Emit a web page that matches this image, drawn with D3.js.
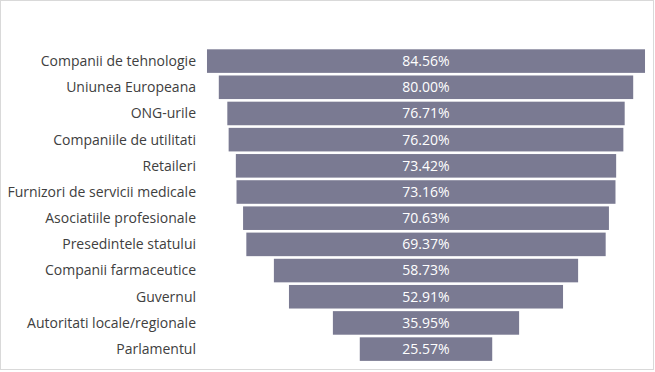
<!DOCTYPE html>
<html>
<head>
<meta charset="utf-8">
<script src="https://cdn.jsdelivr.net/npm/d3@7"></script>
<style>
  body { margin: 0; background: #fff; }
</style>
</head>
<body>
<script>
const categories = [
  'Companii de tehnologie',
  'Uniunea Europeana',
  'ONG-urile',
  'Companiile de utilitati',
  'Retaileri',
  'Furnizori de servicii medicale',
  'Asociatiile profesionale',
  'Presedintele statului',
  'Companii farmaceutice',
  'Guvernul',
  'Autoritati locale/regionale',
  'Parlamentul'
]
const values = [84.56, 80.0, 76.71, 76.2, 73.42, 73.16, 70.63, 69.37, 58.73, 52.91, 35.95, 25.57]

const data = categories.map((c, i) => ({ name: c, value: values[i] }))

const outerWidth = 655
const outerHeight = 372

// colors
const barColor = '#7a7a92'
const labelGray = '#404040'
const borderGray = '#d9d9d9'
const fontFamily = '"Open Sans", sans-serif'

const svg = d3
  .select('body')
  .append('svg')
  .attr('width', outerWidth)
  .attr('height', outerHeight)

// chart border
svg
  .append('rect')
  .attr('x', 0.5)
  .attr('y', 0.5)
  .attr('width', 653)
  .attr('height', 369)
  .style('fill', '#fff')
  .style('stroke', borderGray)

const centerX = 426
const labelX = 196

const wScale = d3.scaleLinear().domain([0, 100]).range([0, 518])

const yScale = d3
  .scaleBand()
  .domain(categories)
  .range([48, 362.2])
  .paddingInner(0.1)
  .paddingOuter(0.05)

const rows = svg.selectAll('.row').data(data).enter().append('g').attr('class', 'row')

rows
  .append('rect')
  .attr('x', d => centerX - wScale(d.value) / 2)
  .attr('y', d => yScale(d.name))
  .attr('width', d => wScale(d.value))
  .attr('height', yScale.bandwidth())
  .style('fill', barColor)

rows
  .append('text')
  .attr('x', centerX)
  .attr('y', d => yScale(d.name) + yScale.bandwidth() / 2)
  .attr('dy', '0.35em')
  .style('text-anchor', 'middle')
  .style('fill', '#fff')
  .style('font-family', fontFamily)
  .style('font-size', '14px')
  .text(d => d3.format('.2f')(d.value) + '%')

rows
  .append('text')
  .attr('x', labelX)
  .attr('y', d => yScale(d.name) + yScale.bandwidth() / 2)
  .attr('dy', '0.35em')
  .style('text-anchor', 'end')
  .style('fill', labelGray)
  .style('font-family', fontFamily)
  .style('font-size', '14px')
  .text(d => d.name)
</script>
</body>
</html>
